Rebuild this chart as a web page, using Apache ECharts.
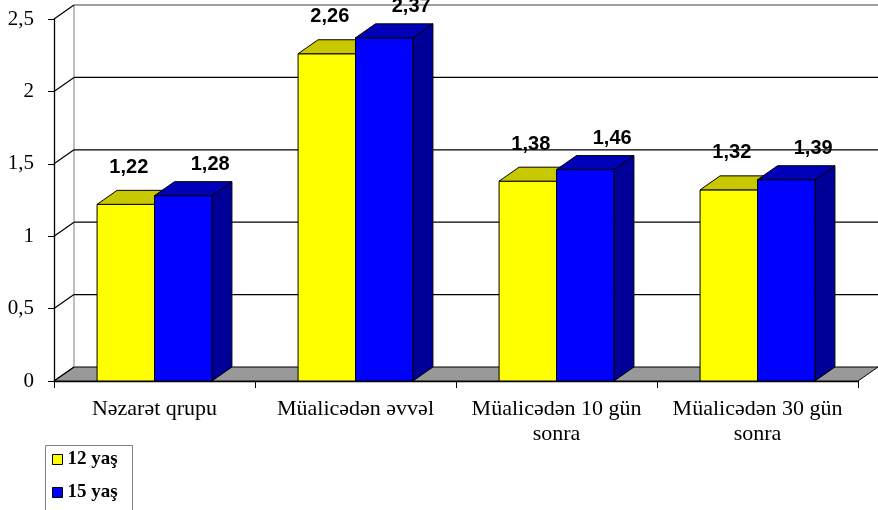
<!DOCTYPE html>
<html>
<head>
<meta charset="utf-8">
<script src="https://cdn.jsdelivr.net/npm/echarts@6/dist/echarts.min.js"></script>
<style>
	html, body { margin: 0; padding: 0; background: #fff; }
	#chart { width: 878px; height: 510px; }
</style>
</head>
<body>
<div id="chart"></div>
<script>
// 数据
var categories = ['Nəzarət qrupu', 'Müalicədən əvvəl', 'Müalicədən 10 gün\nsonra', 'Müalicədən 30 gün\nsonra'];
var seriesNames = ['12 yaş', '15 yaş'];
var yas12 = [1.22, 2.26, 1.38, 1.32];
var yas15 = [1.28, 2.37, 1.46, 1.39];
var yTicks = [0, 0.5, 1, 1.5, 2, 2.5];

// 3D 深度偏移
var DX = 20, DY = 14;

function comma(v) {
	return String(v).replace('.', ',');
}

function toPairs(arr) {
	return arr.map(function(v, i) { return [i, v]; });
}

// 墙和地板
function renderWall(params, api) {
	var cs = params.coordSys;
	var v = api.value(0);
	var p = api.coord([0, v]);
	var x0 = cs.x, x1 = cs.x + cs.width, y = p[1];
	var children = [];
	var isTop = params.dataIndex === yTicks.length - 1;
	var lineColor = isTop ? '#7f7f7f' : '#000';

	if (params.dataIndex === 0) {
		// 地板
		children.push({
			type: 'polygon',
			shape: { points: [[x0, y], [x1, y], [x1 + DX, y - DY], [x0 + DX, y - DY]] },
			style: { fill: '#999999', stroke: '#000', lineWidth: 1 }
		});
		// 后墙左边
		children.push({
			type: 'line',
			shape: { x1: x0 + DX, y1: y - DY, x2: x0 + DX, y2: cs.y - DY },
			style: { stroke: '#7f7f7f', lineWidth: 1 }
		});
	} else {
		children.push({
			type: 'line',
			shape: { x1: x0 + DX, y1: y - DY, x2: x1 + DX, y2: y - DY },
			style: { stroke: lineColor, lineWidth: 1.3 }
		});
	}
	// 左墙斜线
	children.push({
		type: 'line',
		shape: { x1: x0, y1: y, x2: x0 + DX, y2: y - DY },
		style: { stroke: '#000', lineWidth: 1.2 }
	});
	return { type: 'group', children: children };
}

// 柱子
function barRenderer(shift, front, top, side, labelDx, labelDy) {
	return function(params, api) {
		var idx = api.value(0), v = api.value(1);
		var base = api.coord([idx, 0]);
		var tip = api.coord([idx, v]);
		var band = api.size([1, 0])[0];
		var w = band / 3.5;
		var x = base[0] + shift * w;
		var yb = base[1], yt = tip[1];
		var edge = { stroke: '#000', lineWidth: 1 };
		return {
			type: 'group',
			children: [{
				type: 'polygon',
				shape: { points: [[x + w, yt], [x + w + DX, yt - DY], [x + w + DX, yb - DY], [x + w, yb]] },
				style: Object.assign({ fill: side }, edge)
			}, {
				type: 'rect',
				shape: { x: x, y: yt, width: w, height: yb - yt },
				style: Object.assign({ fill: front }, edge)
			}, {
				type: 'polygon',
				shape: { points: [[x, yt], [x + DX, yt - DY], [x + w + DX, yt - DY], [x + w, yt]] },
				style: Object.assign({ fill: top }, edge)
			}, {
				type: 'text',
				style: {
					x: x + w / 2 + labelDx,
					y: yt - DY - labelDy,
					text: v.toFixed(2).replace('.', ','),
					align: 'center',
					verticalAlign: 'middle',
					fill: '#000',
					font: 'bold 20px "Liberation Sans", Arial, sans-serif'
				}
			}]
		};
	};
}

// 图例（每项一个，竖排）
function legendItem(name, top) {
	return {
		data: [name],
		left: 52,
		top: top,
		padding: 0,
		itemWidth: 10,
		itemHeight: 10,
		itemGap: 0,
		icon: 'rect',
		itemStyle: { borderColor: '#000', borderWidth: 1 },
		textStyle: {
			fontFamily: '"Liberation Serif", "Times New Roman", serif',
			fontWeight: 'bold',
			fontSize: 19,
			color: '#000'
		}
	};
}

var myChart = echarts.init(document.getElementById('chart'));

var option = {
	backgroundColor: '#fff',
	animation: false,
	color: ['#ffff00', '#0000ff'],
	grid: { left: 54, right: 20, top: 19, bottom: 129 },
	legend: [legendItem(seriesNames[0], 450), legendItem(seriesNames[1], 483)],
	graphic: [{
		type: 'rect',
		left: 43,
		top: 443,
		shape: { width: 87, height: 80 },
		style: { fill: 'none', stroke: '#808080', lineWidth: 1 },
		silent: true
	}],
	xAxis: {
		type: 'category',
		data: categories,
		boundaryGap: true,
		axisLine: { lineStyle: { color: '#000', width: 1.3 } },
		axisTick: { show: true, length: 7, alignWithLabel: false, lineStyle: { color: '#000' } },
		axisLabel: {
			interval: 0,
			margin: 16,
			lineHeight: 25,
			fontSize: 22,
			fontFamily: '"Liberation Serif", "Times New Roman", serif',
			color: '#000'
		},
		splitLine: { show: false }
	},
	yAxis: {
		type: 'value',
		min: 0,
		max: 2.5,
		interval: 0.5,
		axisLine: { show: true, lineStyle: { color: '#000', width: 1.3 } },
		axisTick: { show: true, length: 6, lineStyle: { color: '#000' } },
		axisLabel: {
			margin: 20,
			fontSize: 21,
			padding: [7, 0, 0, 0],
			fontFamily: '"Liberation Serif", "Times New Roman", serif',
			color: '#000',
			formatter: comma
		},
		splitLine: { show: false }
	},
	series: [{
		type: 'custom',
		name: 'wall',
		z: 1,
		silent: true,
		renderItem: renderWall,
		data: yTicks.map(function(v) { return [v]; }),
		encode: { y: 0 }
	}, {
		type: 'custom',
		name: seriesNames[0],
		z: 2,
		itemStyle: { color: '#ffff00' },
		renderItem: barRenderer(-1, '#ffff00', '#c8c800', '#999900', 3, 23),
		data: toPairs(yas12),
		encode: { x: 0, y: 1 }
	}, {
		type: 'custom',
		name: seriesNames[1],
		z: 3,
		itemStyle: { color: '#0000ff' },
		renderItem: barRenderer(0, '#0000ff', '#0000b8', '#000099', 27, 17),
		data: toPairs(yas15),
		encode: { x: 0, y: 1 }
	}]
};

myChart.setOption(option);
</script>
</body>
</html>
